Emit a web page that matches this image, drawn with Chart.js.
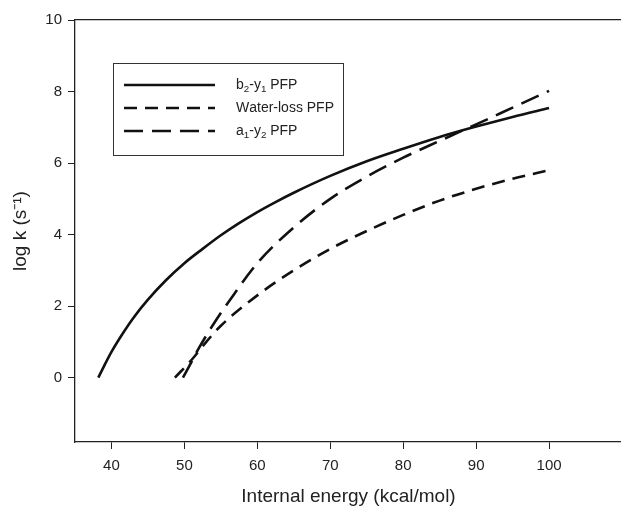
<!DOCTYPE html>
<html>
<head>
<meta charset="utf-8">
<script src="https://cdn.jsdelivr.net/npm/chart.js@4"></script>
<style>
  html, body { margin: 0; padding: 0; background: #fff; overflow: hidden; }
  #wrap { width: 640px; height: 510px; }
</style>
</head>
<body>
<div id="wrap"><canvas id="chartEnergy" width="640" height="510"></canvas></div>
<script>
// === DATA ===
// b2-y1 PFP (solid)
const b2y1Energy = [38.2, 39, 40, 41.5, 43, 45, 47.5, 50, 52.5, 55, 57.5, 60, 62.5, 65, 70, 75, 80, 85, 90, 95, 100];
const b2y1LogK = [0, 0.33, 0.72, 1.22, 1.67, 2.18, 2.73, 3.2, 3.6, 3.98, 4.32, 4.63, 4.91, 5.17, 5.64, 6.05, 6.4, 6.73, 7.02, 7.29, 7.54];

// Water-loss PFP (short dashes)
const waterEnergy = [48.7, 51, 53, 55, 60, 65, 70, 75, 80, 85, 90, 95, 100];
const waterLogK = [0, 0.5, 1.0, 1.45, 2.3, 3.0, 3.6, 4.1, 4.55, 4.95, 5.28, 5.56, 5.8];

// a1-y2 PFP (long dashes)
const a1y2Energy = [49.8, 51, 52, 54, 56, 60, 65, 70, 75, 80, 85, 90, 95, 100];
const a1y2LogK = [0, 0.45, 0.83, 1.5, 2.1, 3.2, 4.2, 5.0, 5.62, 6.15, 6.62, 7.08, 7.55, 8.02];

// tick labels and legend text ("_" = next char is subscript)
const xTicks = [40, 50, 60, 70, 80, 90, 100];
const yTicks = [0, 2, 4, 6, 8, 10];
const legendLabels = ["b_2-y_1 PFP", "Water-loss PFP", "a_1-y_2 PFP"];

const toPoints = (xs, ys) => xs.map((x, i) => ({ x: x, y: ys[i] }));

const FONT = "'Liberation Sans', Arial, sans-serif";
const TXT = "#222";

// === LEGEND BOX (drawn on canvas, inside plot) ===
function drawRich(ctx, str, x, y, size) {
  let cx = x;
  for (let i = 0; i < str.length; i++) {
    let ch = str[i];
    if (ch === "_" && i + 1 < str.length) {
      ch = str[++i];
      ctx.font = (size * 0.7) + "px " + FONT;
      ctx.fillText(ch, cx, y + size * 0.3);
    } else {
      ctx.font = size + "px " + FONT;
      ctx.fillText(ch, cx, y);
    }
    cx += ctx.measureText(ch).width;
  }
}

const legendBox = {
  id: "legendBox",
  afterDatasetsDraw(chart) {
    const ctx = chart.ctx;
    ctx.save();
    ctx.strokeStyle = "#333";
    ctx.lineWidth = 1;
    ctx.strokeRect(113.5, 63.5, 230, 92);
    chart.data.datasets.forEach((ds, i) => {
      const y = 85 + i * 23;
      ctx.beginPath();
      ctx.setLineDash(ds.borderDash || []);
      ctx.lineWidth = ds.borderWidth;
      ctx.strokeStyle = ds.borderColor;
      ctx.moveTo(124, y);
      ctx.lineTo(215, y);
      ctx.stroke();
      ctx.setLineDash([]);
      ctx.fillStyle = TXT;
      ctx.textBaseline = "middle";
      drawRich(ctx, legendLabels[i], 236, y, 14);
    });
    ctx.restore();
  }
};

// === SETUP CHART ===
const ctx = document.getElementById("chartEnergy").getContext("2d");
const chartEnergy = new Chart(ctx, {
  type: "line",
  data: {
    datasets: [
      {
        label: "b2-y1 PFP",
        data: toPoints(b2y1Energy, b2y1LogK),
        borderColor: "#111",
        borderWidth: 2.6,
        pointRadius: 0,
        cubicInterpolationMode: "monotone"
      },
      {
        label: "Water-loss PFP",
        data: toPoints(waterEnergy, waterLogK),
        borderColor: "#111",
        borderWidth: 2.6,
        borderDash: [13, 8],
        pointRadius: 0,
        cubicInterpolationMode: "monotone"
      },
      {
        label: "a1-y2 PFP",
        data: toPoints(a1y2Energy, a1y2LogK),
        borderColor: "#111",
        borderWidth: 2.6,
        borderDash: [19, 9],
        pointRadius: 0,
        cubicInterpolationMode: "monotone"
      }
    ]
  },
  options: {
    responsive: false,
    animation: false,
    layout: { padding: { top: 20, right: 18, left: 0, bottom: 0 } },
    plugins: { legend: { display: false }, tooltip: { enabled: false } },
    scales: {
      x: {
        type: "linear",
        min: 35,
        max: 110,
        afterBuildTicks: s => { s.ticks = xTicks.map(v => ({ value: v })); },
        afterFit: s => { s.height = 68; },
        grid: { drawOnChartArea: false, tickLength: 7, color: "#222", tickWidth: 1 },
        border: { display: true, color: "#222", width: 1.3 },
        ticks: { color: TXT, font: { family: FONT, size: 15 }, padding: 8, maxRotation: 0 },
        title: { display: true, text: "Internal energy (kcal/mol)", color: TXT, font: { family: FONT, size: 19 }, padding: { top: 0, bottom: 2 } }
      },
      xTop: {
        type: "linear",
        position: "top",
        min: 35,
        max: 110,
        afterFit: s => { s.height = 0; },
        grid: { display: false },
        border: { display: true, color: "#222", width: 1.3 },
        ticks: { display: false }
      },
      y: {
        min: -1.8,
        max: 10,
        afterBuildTicks: s => { s.ticks = yTicks.map(v => ({ value: v })); },
        afterFit: s => { s.width = 75; },
        grid: { drawOnChartArea: false, tickLength: 7, color: "#222", tickWidth: 1 },
        border: { display: true, color: "#222", width: 1.3 },
        ticks: { color: TXT, font: { family: FONT, size: 15 }, padding: 6 },
        title: { display: true, text: "log k (s\u207B\u00B9)", color: TXT, font: { family: FONT, size: 19 }, padding: { top: 9, bottom: 4 } }
      }
    }
  },
  plugins: [legendBox]
});
</script>
</body>
</html>
